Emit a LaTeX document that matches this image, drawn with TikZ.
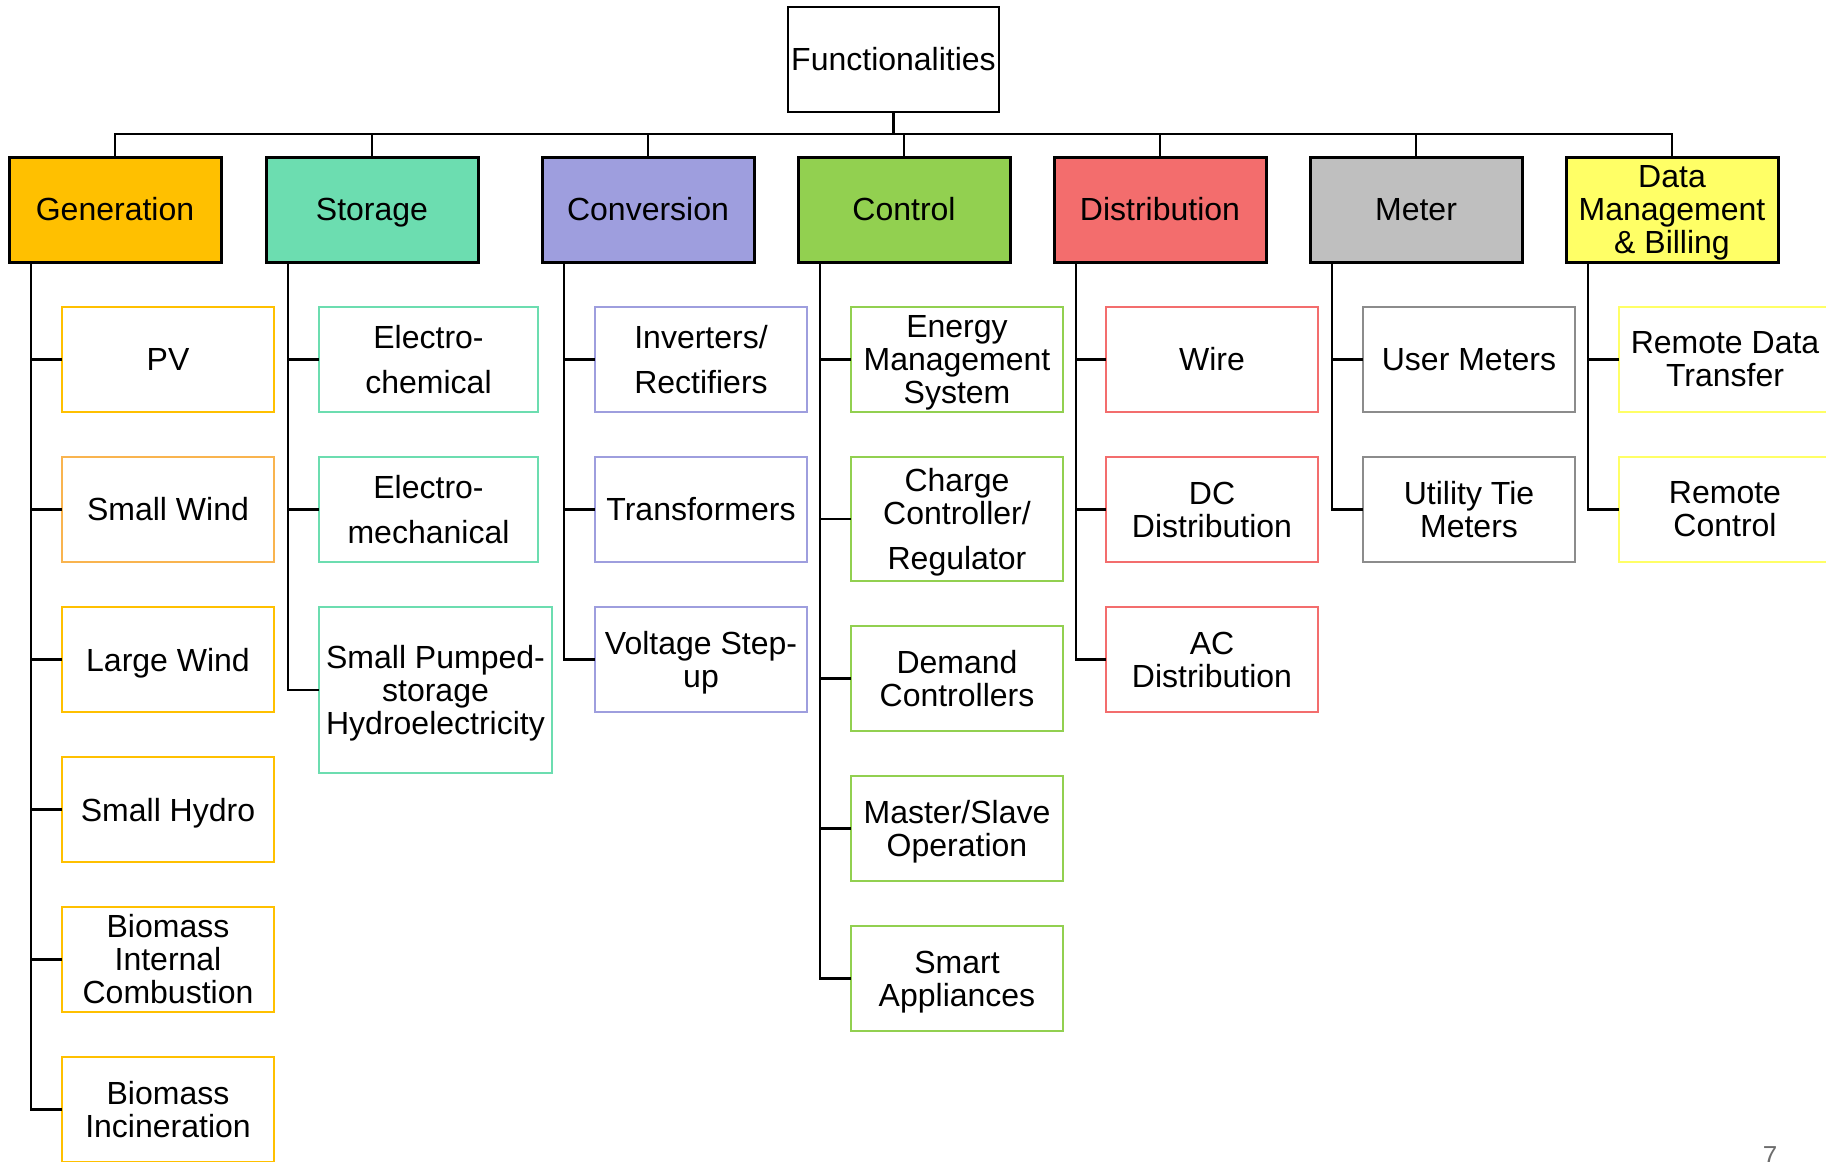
\documentclass[tikz,border=0pt]{standalone}
\usepackage{fontspec}
\setmainfont{Liberation Sans}
\usetikzlibrary{positioning}
\definecolor{genfill}{HTML}{FFC000}
\definecolor{genlight}{HTML}{F9B44F}
\definecolor{stofill}{HTML}{6CDDB0}
\definecolor{convfill}{HTML}{9E9EDE}
\definecolor{ctrlfill}{HTML}{92D050}
\definecolor{distfill}{HTML}{F36D6D}
\definecolor{meterfill}{HTML}{BFBFBF}
\definecolor{meterline}{HTML}{8C8C8C}
\definecolor{datafill}{HTML}{FFFF66}
\definecolor{pagegray}{HTML}{6D6D6D}
% last line without its descender, so that text sits as in the slide
\newcommand{\nodesc}[1]{\raisebox{0pt}[\height][0pt]{#1}}
\tikzset{
    rootbox/.style={draw=black, line width=1.25pt, fill=white, align=center, inner sep=0pt, outer sep=0pt, minimum width=105.5pt, minimum height=52.5pt, font=\fontsize{16pt}{16.5pt}\selectfont},
    topbox/.style={draw=black, line width=1.5pt, align=center, inner sep=0pt, outer sep=0pt, minimum width=106pt, minimum height=52.5pt, font=\fontsize{16pt}{16.5pt}\selectfont},
    subbox/.style={line width=1.25pt, fill=white, align=center, inner sep=0pt, outer sep=0pt, minimum width=106pt, minimum height=52.5pt, font=\fontsize{16pt}{16.5pt}\selectfont},
    link/.style={line width=1.25pt, black},
    trunk/.style={line width=1.75pt, black}
}
\begin{document}
\begin{tikzpicture}
    \useasboundingbox (0,0) rectangle (913pt,-581pt);
    % root and first level
    \node [rootbox] (func) at (446.75pt,-29.75pt) {Functionalities};
    \node [topbox, fill=genfill] (gen) at (57.5pt,-104.75pt) {Generation};
    \node [topbox, fill=stofill, right=22.5pt of gen] (sto) {\nodesc{Storage}};
    \node [topbox, fill=convfill, right=32pt of sto] (conv) {Conversion};
    \node [topbox, fill=ctrlfill, right=22pt of conv] (ctrl) {Control};
    \node [topbox, fill=distfill, right=22pt of ctrl] (dist) {Distribution};
    \node [topbox, fill=meterfill, right=22pt of dist] (meter) {Meter};
    \node [topbox, fill=datafill, right=22pt of meter] (data) {Data\\Management\\\nodesc{\& Billing}};
    \coordinate (bus) at ([yshift=-11pt]func.south);
    \draw [trunk] (func) -- (bus);
    \draw [link] (bus) -| (gen);
    \draw [link] (bus) -| (sto);
    \draw [link] (bus) -| (conv);
    \draw [link] (bus) -| (ctrl);
    \draw [link] (bus) -| (dist);
    \draw [link] (bus) -| (meter);
    \draw [link] (bus) -| (data);

    % generation
    \node [subbox, draw=genfill, below right=22.5pt and 26.5pt of gen.south west] (pv) {PV};
    \node [subbox, draw=genlight, below=22.5pt of pv] (swind) {Small Wind};
    \node [subbox, draw=genfill, below=22.5pt of swind] (lwind) {\nodesc{Large Wind}};
    \node [subbox, draw=genfill, below=22.5pt of lwind] (shydro) {\nodesc{Small Hydro}};
    \node [subbox, draw=genfill, below=22.5pt of shydro] (biocomb) {Biomass\\Internal\\Combustion};
    \node [subbox, draw=genfill, below=22.5pt of biocomb] (bioinc) {Biomass\\Incineration};
    \coordinate (genspine) at ([xshift=11pt]gen.south west);
    \draw [link] (genspine) |- (pv);
    \draw [link] (genspine) |- (swind);
    \draw [link] (genspine) |- (lwind);
    \draw [link] (genspine) |- (shydro);
    \draw [link] (genspine) |- (biocomb);
    \draw [link] (genspine) |- (bioinc);

    % storage
    \node [subbox, draw=stofill, minimum width=109.5pt, below right=22.5pt and 26.5pt of sto.south west] (echem) {Electro-\\[6pt]chemical};
    \node [subbox, draw=stofill, minimum width=109.5pt, below=22.5pt of echem] (emech) {Electro-\\[6pt]mechanical};
    \node [subbox, draw=stofill, minimum width=116.5pt, minimum height=83pt, below right=22.5pt and 0pt of emech.south west] (pumped) {Small Pumped-\\storage\\\nodesc{Hydroelectricity}};
    \coordinate (stospine) at ([xshift=11pt]sto.south west);
    \draw [link] (stospine) |- (echem);
    \draw [link] (stospine) |- (emech);
    \draw [link] (stospine) |- (pumped);

    % conversion
    \node [subbox, draw=convfill, below right=22.5pt and 26.5pt of conv.south west] (inv) {Inverters/\\[6pt]Rectifiers};
    \node [subbox, draw=convfill, below=22.5pt of inv] (trans) {Transformers};
    \node [subbox, draw=convfill, below=22.5pt of trans] (stepup) {Voltage Step-\\\nodesc{up}};
    \coordinate (convspine) at ([xshift=11pt]conv.south west);
    \draw [link] (convspine) |- (inv);
    \draw [link] (convspine) |- (trans);
    \draw [link] (convspine) |- (stepup);

    % control
    \node [subbox, draw=ctrlfill, below right=22.5pt and 26.5pt of ctrl.south west] (ems) {Energy\\Management\\\nodesc{System}};
    \node [subbox, draw=ctrlfill, minimum height=62pt, below=22.5pt of ems] (charge) {Charge\\Controller/\\[6pt]\nodesc{Regulator}};
    \node [subbox, draw=ctrlfill, below=22.5pt of charge] (demand) {Demand\\Controllers};
    \node [subbox, draw=ctrlfill, below=22.5pt of demand] (master) {Master/Slave\\\nodesc{Operation}};
    \node [subbox, draw=ctrlfill, below=22.5pt of master] (smart) {Smart\\\nodesc{Appliances}};
    \coordinate (ctrlspine) at ([xshift=11pt]ctrl.south west);
    \draw [link] (ctrlspine) |- (ems);
    \draw [link] (ctrlspine) |- (charge);
    \draw [link] (ctrlspine) |- (demand);
    \draw [link] (ctrlspine) |- (master);
    \draw [link] (ctrlspine) |- (smart);

    % distribution
    \node [subbox, draw=distfill, below right=22.5pt and 26pt of dist.south west] (wire) {Wire};
    \node [subbox, draw=distfill, below=22.5pt of wire] (dcdist) {DC\\Distribution};
    \node [subbox, draw=distfill, below=22.5pt of dcdist] (acdist) {AC\\Distribution};
    \coordinate (distspine) at ([xshift=11pt]dist.south west);
    \draw [link] (distspine) |- (wire);
    \draw [link] (distspine) |- (dcdist);
    \draw [link] (distspine) |- (acdist);

    % meter
    \node [subbox, draw=meterline, below right=22.5pt and 26.5pt of meter.south west] (umeter) {User Meters};
    \node [subbox, draw=meterline, below=22.5pt of umeter] (tiemeter) {Utility Tie\\Meters};
    \coordinate (meterspine) at ([xshift=11pt]meter.south west);
    \draw [link] (meterspine) |- (umeter);
    \draw [link] (meterspine) |- (tiemeter);

    % data management
    \node [subbox, draw=datafill, below right=22.5pt and 26.5pt of data.south west] (rdata) {Remote Data\\Transfer};
    \node [subbox, draw=datafill, below=22.5pt of rdata] (rctrl) {Remote\\Control};
    \coordinate (dataspine) at ([xshift=11pt]data.south west);
    \draw [link] (dataspine) |- (rdata);
    \draw [link] (dataspine) |- (rctrl);

    \node [anchor=base, text=pagegray, font=\fontsize{13pt}{13pt}\selectfont] (pagenum) at (885pt,-582pt) {7};
\end{tikzpicture}
\end{document}
